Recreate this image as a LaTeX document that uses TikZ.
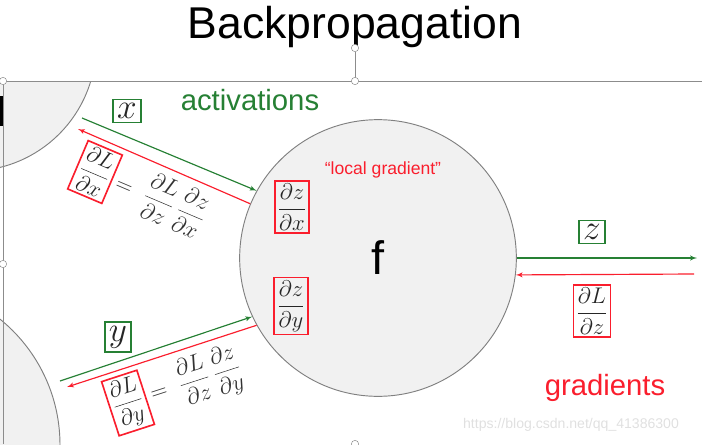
\documentclass[tikz,border=0pt]{standalone}
\usepackage{fontspec}
\setmainfont{Liberation Sans}
\usetikzlibrary{arrows}

\definecolor{actgreen}{RGB}{38,128,52}
\definecolor{gradred}{RGB}{250,30,45}
\definecolor{nodegray}{RGB}{241,241,241}

\newcommand{\var}[1]{\scalebox{1.45}{$#1$}}
\newcommand{\pfrac}[2]{\scalebox{1.12}{$\displaystyle\frac{\partial #1}{\partial #2}$}}

\begin{document}
\begin{tikzpicture}[>=latex', x=0.03cm, y=-0.03cm]
        \tikzset{gbox/.style={draw=actgreen, line width=1.2pt, inner sep=3.5pt, text=black!85, font=\fontsize{20}{22}\selectfont},
        rbox/.style={draw=gradred, line width=1.4pt, inner sep=2.5pt, text=black!85, font=\fontsize{18}{22}\selectfont},
        eqn/.style={inner sep=4pt, text=black!80, font=\fontsize{18}{22}\selectfont},
        gate/.style={draw=black!50, fill=nodegray, shape=circle, line width=0.8pt, minimum size=8.3cm, font=\fontsize{40}{40}\selectfont},
        handle/.style={draw=black!45, fill=white, shape=circle, inner sep=0pt, minimum size=0.22cm},
        fwd/.style={->, draw=actgreen, line width=1pt},
        bwd/.style={->, draw=gradred, line width=1pt}
        }
        \useasboundingbox (0,0) rectangle (702,444);
        \clip (0,0) rectangle (702,444);

%% title and slide frame
        \node (title) at (355,27) {\fontsize{38}{40}\selectfont Backpropagation};

%% neighbouring gates, cut by the slide edge
        \begin{scope}
        \clip (0,81) rectangle (702,444);
        \draw[black!50, fill=nodegray, line width=0.8pt] (-30,45) circle (126);
        \draw[black!50, fill=nodegray, line width=0.8pt] (-102,445) circle (162);
        \end{scope}
        \draw[black!45] (0,81) -- (702,81) (3,81) -- (3,444) (355,52) -- (355,81);
        \fill[black] (0,96) rectangle (3,126);
        \node [gate] (f) at (378,258) {f};

        \node [handle] (h1) at (3,81) {};
        \node [handle] (h2) at (355,81) {};
        \node [handle] (h3) at (3,264) {};
        \node [handle] (h4) at (355,444) {};
        \node [handle] (rot) at (355,48) {};

%% labels
        \node [text=actgreen, font=\fontsize{25}{28}\selectfont] (act) at (250,100) {activations};
        \node [text=gradred, font=\fontsize{25}{28}\selectfont] (grad) at (605,388) {gradients};
        \node [text=gradred, font=\fontsize{15}{17}\selectfont] (local) at (383,170) {“local gradient”};
        \node [text=black!12, font=\fontsize{12}{14}\selectfont] (mark) at (571,425) {https://blog.csdn.net/qq\_41386300};

%% local gradients
        \node [rbox] (dzdx) at (292,207) {\pfrac{z}{x}};
        \node [rbox] (dzdy) at (291,306) {\pfrac{z}{y}};

%% inputs and output
        \node [gbox] (xval) at (127,111) {\var{x}};
        \node [gbox] (yval) at (118,337) {\var{y}};
        \node [gbox] (zval) at (592,232) {\var{z}};
        \node [rbox] (dLdz) at (592,311) {\pfrac{L}{z}};
        \node [rbox, rotate=-23] (dLdx) at (95,172) {\pfrac{L}{x}};
        \node [eqn, rotate=-23, anchor=west] (chainx) at (dLdx.east) {\scalebox{1.15}{$=\;\displaystyle\frac{\partial L}{\partial z}\,\frac{\partial z}{\partial x}$}};
        \node [rbox, rotate=18] (dLdy) at (128,403) {\pfrac{L}{y}};
        \node [eqn, rotate=18, anchor=west] (chainy) at (dLdy.east) {\scalebox{1.15}{$=\;\displaystyle\frac{\partial L}{\partial z}\,\frac{\partial z}{\partial y}$}};

        \coordinate (xtail) at (82,118);
        \coordinate (xhead) at (78,129);
        \coordinate (ytail) at (60,381);
        \coordinate (yhead) at (67,387);
        \coordinate (zhead) at (697,258);
        \coordinate (ztail) at (694,274);

%% paths
        \path (xtail) edge[fwd] (f.151)
              (f.157) edge[bwd] (xhead)
              (ytail) edge[fwd] (f.205)
              (f.209) edge[bwd] (yhead)
              (f.0) edge[fwd] (zhead)
              (ztail) edge[bwd] (f.-7)
              ;
\end{tikzpicture}
\end{document}
